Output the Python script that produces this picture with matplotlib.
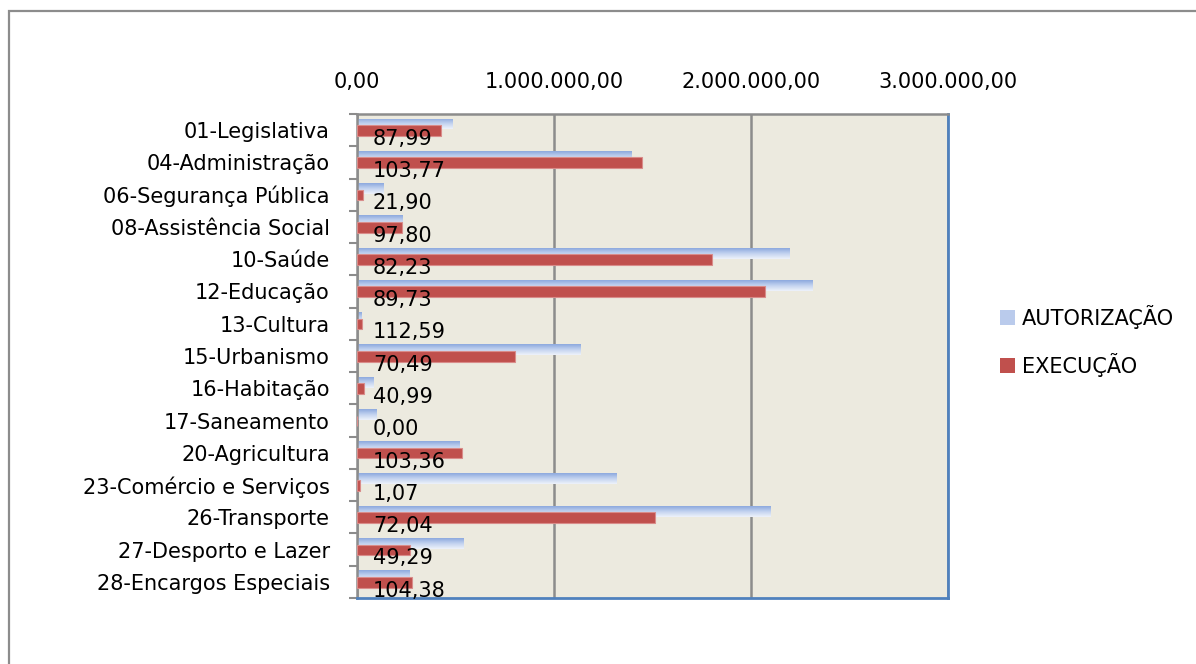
import matplotlib
matplotlib.use("Agg")
import matplotlib.pyplot as plt
import numpy as np
from matplotlib.patches import Patch, Rectangle
from matplotlib.ticker import FuncFormatter

# ---- data --------------------------------------------------------------
categorias = [
    "01-Legislativa", "04-Administração", "06-Segurança Pública",
    "08-Assistência Social", "10-Saúde", "12-Educação", "13-Cultura",
    "15-Urbanismo", "16-Habitação", "17-Saneamento", "20-Agricultura",
    "23-Comércio e Serviços", "26-Transporte", "27-Desporto e Lazer",
    "28-Encargos Especiais",
]
autorizacao = [486000, 1391000, 137000, 232000, 2193000, 2310000, 24000,
               1135000, 85000, 100000, 518000, 1315000, 2101000, 543000,
               269000]
execucao = [427000, 1445000, 30000, 227000, 1803000, 2073000, 27000,
            800000, 35000, 0, 535000, 14000, 1513000, 268000, 281000]
percentual = [87.99, 103.77, 21.90, 97.80, 82.23, 89.73, 112.59, 70.49,
              40.99, 0.00, 103.36, 1.07, 72.04, 49.29, 104.38]
xticks = [0, 1000000, 2000000, 3000000]

plt.rcParams["font.family"] = ["DejaVu Sans"]
FS = 15
GRAY = "#8C8C8C"
BLUE_EDGE = "#4F81BD"
RED = "#C0504D"


def br_number(v, _pos=None):
    """1234567.8 -> '1.234.567,80'"""
    s = f"{v:,.2f}"
    return s.replace(",", "X").replace(".", ",").replace("X", ".")


W, H = 1196, 664
fig = plt.figure(figsize=(W / 100, H / 100), dpi=100)
fig.patch.set_facecolor("white")

# outer chart frame (right/bottom edges fall outside the picture)
fig.patches.append(Rectangle((9 / W, -0.1), 1.2, 1 - 11 / H + 0.1,
                             transform=fig.transFigure, fill=False,
                             ec=GRAY, lw=1.6))

ax = fig.add_axes([357 / W, 1 - 598 / H, (948 - 357) / W, (598 - 114) / H])
ax.set_facecolor("#ECEADF")

y = np.arange(len(categorias))
h = 0.34

# autorização: light-blue vertical gradient bars, drawn behind
aut_bars = ax.barh(y - 0.19, autorizacao, height=h, color="none",
                   edgecolor="none", zorder=2)
grad = np.linspace(0, 1, 64).reshape(-1, 1)
cmap_aut = matplotlib.colors.LinearSegmentedColormap.from_list(
    "aut", ["#8DA9DE", "#C3D3F0", "#EEF2FA"])
for bar in aut_bars:
    x0, y0 = bar.get_x(), bar.get_y()
    w, bh = bar.get_width(), bar.get_height()
    if w <= 0:
        continue
    im = ax.imshow(grad, cmap=cmap_aut, aspect="auto", origin="upper",
                   extent=(x0, x0 + w, y0 + bh, y0), zorder=2,
                   interpolation="bilinear")
    im.set_clip_path(bar)

# execução: solid red bars on top
ax.barh(y + 0.01, execucao, height=0.33, color=RED, edgecolor="#D98C8A",
        linewidth=0.8, zorder=3)

# percentage labels
for yi, p in zip(y, percentual):
    ax.annotate(br_number(p), xy=(0, yi + 0.27), xytext=(16, 0),
                textcoords="offset pixels", fontsize=FS, va="center",
                ha="left", zorder=5)

ax.set_xlim(0, 3000000)
ax.set_ylim(len(categorias) - 0.5, -0.5)

ax.xaxis.tick_top()
ax.set_xticks(xticks)
ax.xaxis.set_major_formatter(FuncFormatter(br_number))
ax.tick_params(axis="x", length=0, pad=16, labelsize=FS)
ax.grid(axis="x", color=GRAY, lw=1.8, zorder=1)
ax.set_axisbelow(True)

ax.set_yticks(y)
ax.set_yticklabels(categorias)
ax.set_yticks(np.arange(-0.5, len(categorias), 1), minor=True)
ax.tick_params(axis="y", which="major", length=0, pad=19.5, labelsize=FS)
ax.tick_params(axis="y", which="minor", length=5.5, width=1.5,
               color=GRAY, direction="out")

for side in ("left", "top"):
    ax.spines[side].set_color(GRAY)
    ax.spines[side].set_linewidth(1.8)
for side in ("right", "bottom"):
    ax.spines[side].set_color(BLUE_EDGE)
    ax.spines[side].set_linewidth(2)

handles = [Patch(facecolor="#BACBEC", edgecolor="none", label="AUTORIZAÇÃO"),
           Patch(facecolor=RED, edgecolor="none", label="EXECUÇÃO")]
fig.legend(handles=handles, loc="center left",
           bbox_to_anchor=(1000 / W, 1 - 341 / H), frameon=False,
           fontsize=FS, handlelength=0.72, handleheight=0.72,
           handletextpad=0.34, labelspacing=1.15, borderpad=0,
           borderaxespad=0)

fig.savefig("out.png", dpi=100)
